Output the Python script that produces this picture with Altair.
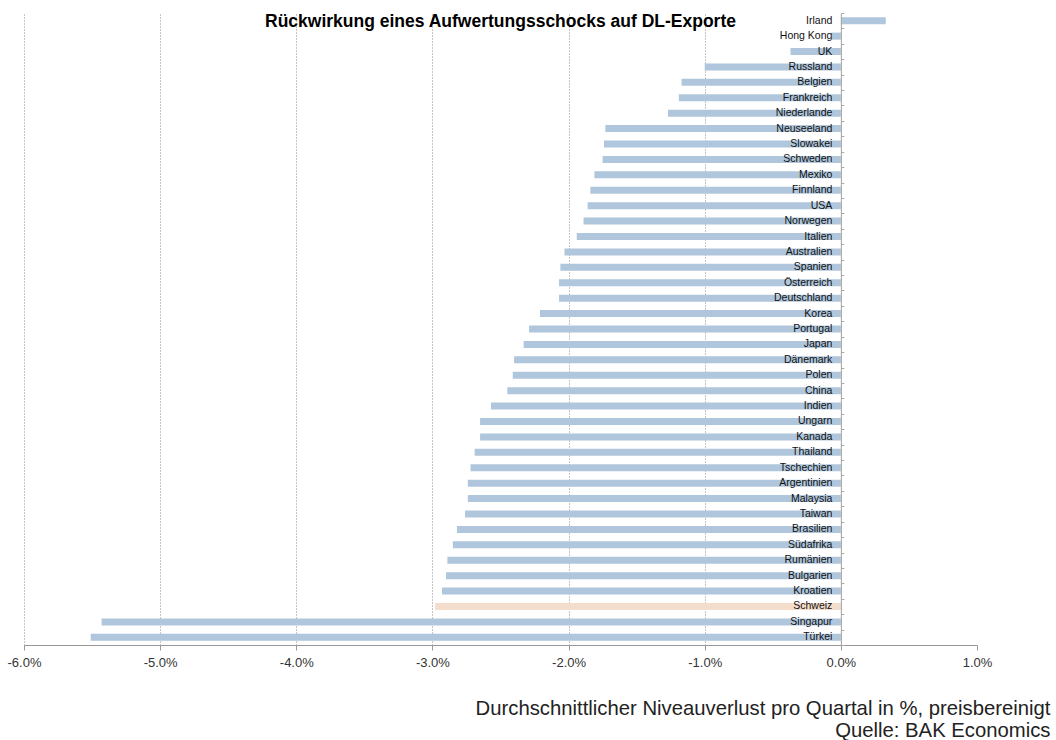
import altair as alt
import pandas as pd

countries = ["Irland", "Hong Kong", "UK", "Russland", "Belgien", "Frankreich", "Niederlande",
             "Neuseeland", "Slowakei", "Schweden", "Mexiko", "Finnland", "USA", "Norwegen",
             "Italien", "Australien", "Spanien", "Österreich", "Deutschland", "Korea",
             "Portugal", "Japan", "Dänemark", "Polen", "China", "Indien", "Ungarn", "Kanada",
             "Thailand", "Tschechien", "Argentinien", "Malaysia", "Taiwan", "Brasilien",
             "Südafrika", "Rumänien", "Bulgarien", "Kroatien", "Schweiz", "Singapur", "Türkei"]
values_pct = [0.33, -0.07, -0.37, -1.00, -1.17, -1.19, -1.27,
              -1.73, -1.74, -1.75, -1.81, -1.84, -1.86, -1.89,
              -1.94, -2.03, -2.06, -2.07, -2.07, -2.21,
              -2.29, -2.33, -2.40, -2.41, -2.45, -2.57, -2.65, -2.65,
              -2.69, -2.72, -2.74, -2.74, -2.76, -2.82,
              -2.85, -2.89, -2.90, -2.93, -2.98, -5.43, -5.51]
highlight = "Schweiz"
x_ticks = [-0.06, -0.05, -0.04, -0.03, -0.02, -0.01, 0.0, 0.01]

df = pd.DataFrame({
    "Land": countries,
    "Wert": [v / 100 for v in values_pct],
    "Gruppe": ["Schweiz" if c == highlight else "Andere" for c in countries],
})

FONT = "Liberation Sans, Arial, sans-serif"
W, H = 953, 632
zero_offset = -W * 6 / 7  # move the category axis onto the zero line

x_scale = alt.Scale(domain=[-0.06, 0.01], nice=False)
y_scale = alt.Scale(paddingInner=0, paddingOuter=0)

bars = alt.Chart(df).mark_bar(size=7).encode(
    x=alt.X("Wert:Q", scale=x_scale,
            axis=alt.Axis(values=x_ticks,
                          labelExpr="replace(format(datum.value, '.1%'), '\u2212', '-')",
                          labelFlush=False,
                          grid=True, gridDash=[1, 2], gridColor="#888888",
                          gridOpacity=alt.condition("datum.value > 0.005", alt.value(0), alt.value(1)),
                          domainColor="#999999", tickColor="#999999", tickSize=5,
                          labelFont=FONT, labelFontSize=13, labelColor="#333333",
                          labelPadding=6,
                          title=["Durchschnittlicher Niveauverlust pro Quartal in %, preisbereinigt",
                                 "Quelle: BAK Economics"],
                          titleFont=FONT, titleFontSize=20.3, titleFontWeight="normal",
                          titleColor="#222222", titleAlign="right", titleBaseline="top",
                          titleX=1026, titleY=53, titleLineHeight=22)),
    y=alt.Y("Land:N", sort=countries, scale=y_scale,
            axis=alt.Axis(orient="left", offset=zero_offset, ticks=False, grid=False,
                          domainColor="#a6a6a6", labelFont=FONT, labelFontSize=10.5,
                          labelColor="#111111", labelPadding=9, title=None, zindex=1)),
    color=alt.Color("Gruppe:N",
                    scale=alt.Scale(domain=["Andere", "Schweiz"], range=["#AFC6DC", "#F5DDCB"]),
                    legend=None),
)

ticks_layer = alt.Chart(df).mark_bar(size=7, opacity=0).encode(
    x=alt.X("Wert:Q", scale=x_scale, axis=None),
    y=alt.Y("Land:N", sort=countries, scale=y_scale,
            axis=alt.Axis(orient="right", offset=-(W / 7), labels=False, domain=False,
                          ticks=True, tickSize=3, tickColor="#aaaaaa", tickBand="extent",
                          grid=False, title=None, zindex=1)),
)

chart = alt.layer(bars, ticks_layer).resolve_axis(y="independent", x="independent").properties(
    width=W, height=H,
    autosize=alt.AutoSizeParams(type="none"),
    padding={"left": 24, "top": 13, "right": 1056 - 24 - W, "bottom": 740 - 13 - H},
    background="white",
    title=alt.Title("Rückwirkung  eines Aufwertungsschocks auf DL-Exporte",
                    font=FONT, fontSize=17.5, fontWeight="bold", color="#000000",
                    anchor="middle", frame="group", offset=-18),
).configure_view(stroke=None)

chart.save("out.html", embed_options={"renderer": "svg", "actions": False})
